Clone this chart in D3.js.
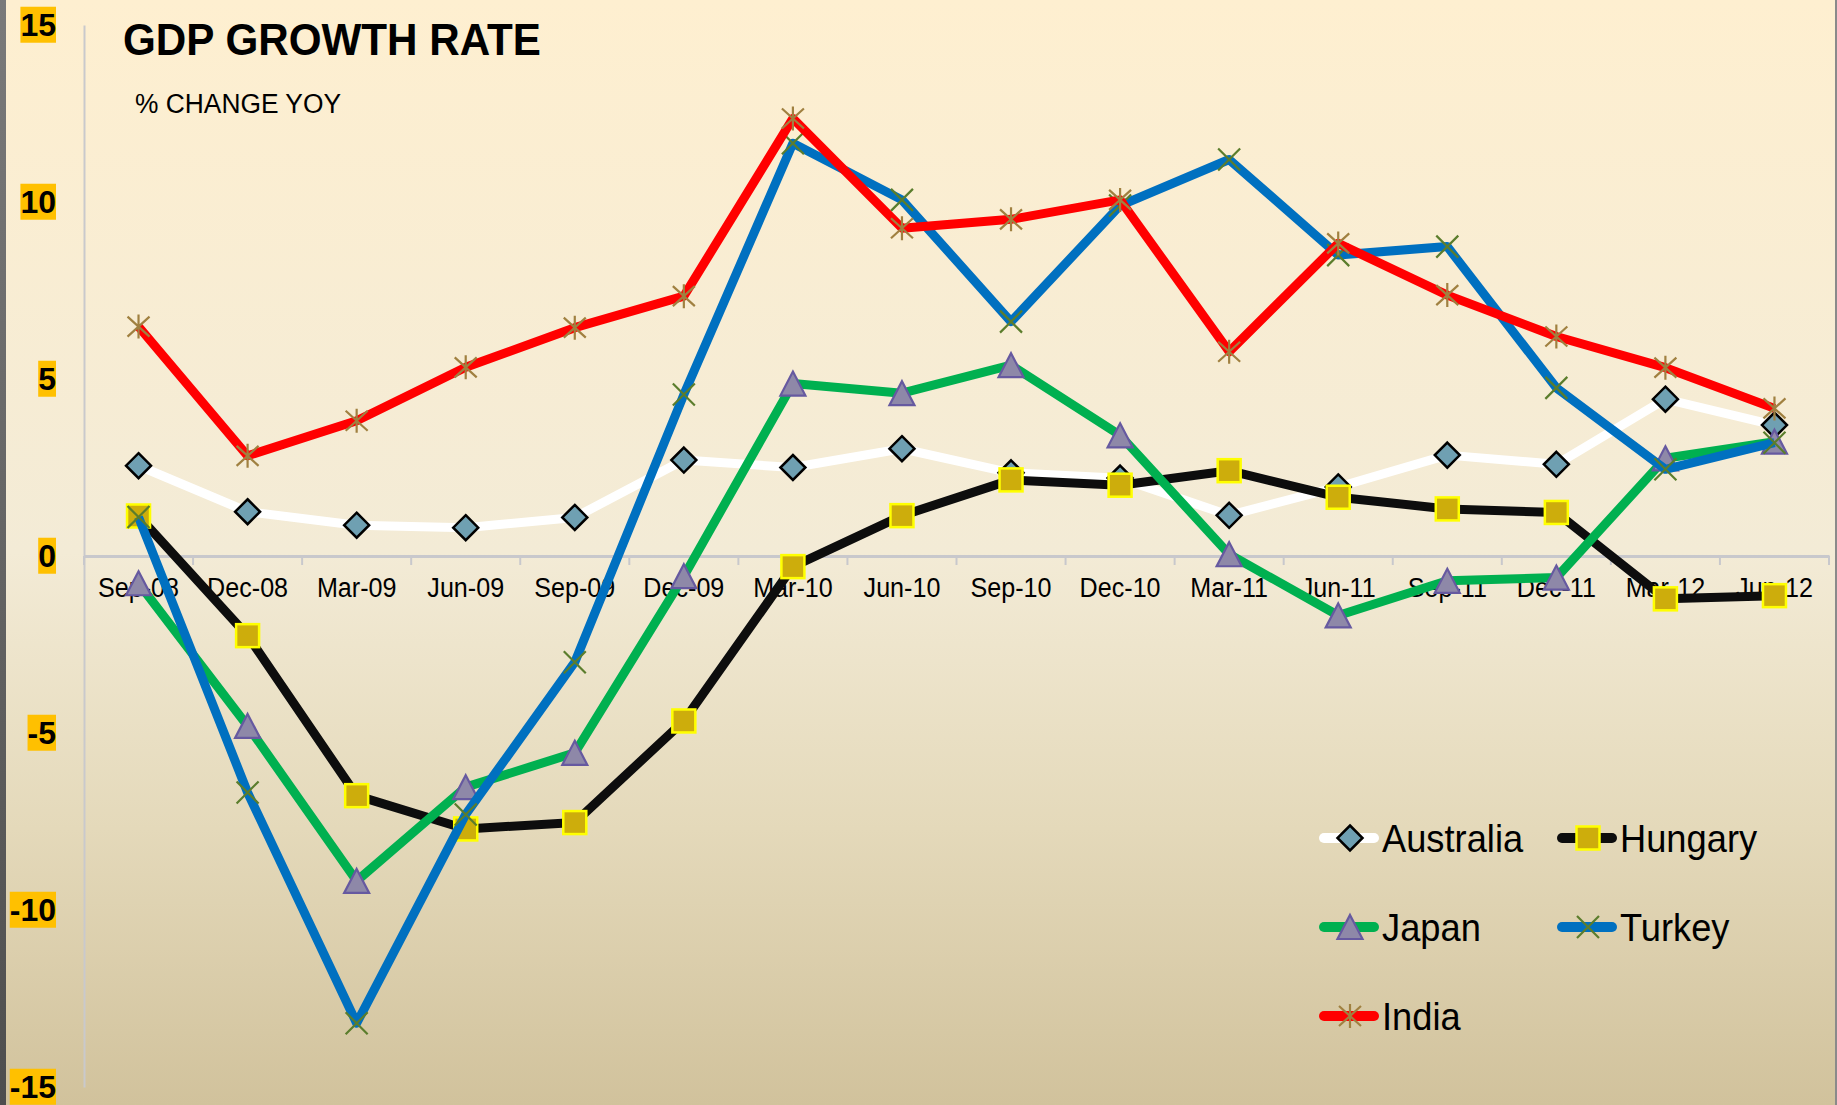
<!DOCTYPE html>
<html><head><meta charset="utf-8">
<script src="https://cdn.jsdelivr.net/npm/d3@7"></script>
<style>html,body{margin:0;padding:0;overflow:hidden;background:#fff}</style>
</head><body><svg id="c" width="1837" height="1105"></svg>
<script>
// ---------- DATA ----------
const categories = ["Sep-08","Dec-08","Mar-09","Jun-09","Sep-09","Dec-09","Mar-10","Jun-10","Sep-10","Dec-10","Mar-11","Jun-11","Sep-11","Dec-11","Mar-12","Jun-12"];
const australia = [2.55,1.25,0.87,0.80,1.09,2.71,2.50,3.03,2.35,2.20,1.15,1.95,2.85,2.59,4.43,3.70];
const hungary   = [1.13,-2.25,-6.77,-7.71,-7.53,-4.66,-0.30,1.14,2.15,2.00,2.41,1.66,1.33,1.23,-1.21,-1.12];
const japan     = [-0.77,-4.80,-9.18,-6.53,-5.56,-0.57,4.87,4.60,5.39,3.41,0.05,-1.68,-0.70,-0.61,2.76,3.23];
const turkey    = [1.10,-6.68,-13.20,-7.30,-3.00,4.56,11.66,10.06,6.62,9.90,11.20,8.50,8.74,4.75,2.45,3.20];
const india     = [6.48,2.83,3.82,5.33,6.45,7.34,12.36,9.26,9.51,10.06,5.77,8.83,7.37,6.20,5.32,4.17];
const yTicks = [-15,-10,-5,0,5,10,15];
const seriesNames = ["Australia","Hungary","Japan","Turkey","India"];
const seriesValues = [australia,hungary,japan,turkey,india];
const titleText = "GDP GROWTH RATE";
const subtitleText = "% CHANGE YOY";

// ---------- STYLES ----------
const styles = {
  Australia:{line:"#FFFFFF", marker:"diamond"},
  Hungary:{line:"#0D0D0D", marker:"square"},
  Japan:{line:"#00B050", marker:"triangle"},
  Turkey:{line:"#0070C0", marker:"cross"},
  India:{line:"#FF0000", marker:"star"}
};
const FONT = "'Liberation Sans', Arial, Helvetica, sans-serif";
const W=1837, H=1105;
const svg = d3.select("#c");

const defs = svg.append("defs");
const bg = defs.append("linearGradient").attr("id","bg").attr("x1",0).attr("y1",0).attr("x2",0).attr("y2",1);
[[0,"#FEEFD0"],[0.5,"#F3EBD6"],[0.75,"#E4D9BA"],[1,"#D1C29C"]].forEach(s=>bg.append("stop").attr("offset",s[0]).attr("stop-color",s[1]));
const gb = defs.append("linearGradient").attr("id","gb").attr("x1",0).attr("y1",0).attr("x2",0).attr("y2",1);
[[0,"#7A7A7A"],[1,"#4E4E4E"]].forEach(s=>gb.append("stop").attr("offset",s[0]).attr("stop-color",s[1]));

svg.append("rect").attr("width",W).attr("height",H).attr("fill","url(#bg)");
svg.append("rect").attr("x",0).attr("y",0).attr("width",6).attr("height",H).attr("fill","url(#gb)");
svg.append("rect").attr("x",1835).attr("y",0).attr("width",2).attr("height",H).attr("fill","#8A8A8A");

function squeeze(sel,f){
  sel.each(function(){const w=this.getComputedTextLength();d3.select(this).attr("textLength",w*f).attr("lengthAdjust","spacingAndGlyphs");});
}

// ---------- SCALES ----------
const x = d3.scaleBand().domain(categories).range([84,1829]).paddingInner(0).paddingOuter(0);
const cx = c => x(c)+x.bandwidth()/2;
const y = d3.scaleLinear().domain([-15,15]).range([1087,25]);

// ---------- AXES ----------
const yAxis = svg.append("g").attr("transform","translate(84,0)")
  .call(d3.axisLeft(y).tickValues(yTicks).tickFormat(d=>String(d)).tickSize(0).tickSizeOuter(0).tickPadding(28));
yAxis.select(".domain").attr("stroke","#C9C9CC").attr("stroke-width",2);
yAxis.selectAll(".tick text").attr("font-family",FONT).attr("font-size",32).attr("font-weight","bold").attr("fill","#000");
yAxis.selectAll(".tick").each(function(){
  const t=d3.select(this).select("text"); const b=t.node().getBBox();
  d3.select(this).insert("rect","text").attr("x",b.x).attr("y",b.y).attr("width",b.width).attr("height",b.height).attr("fill","#FFC000");
});

const xAxis = svg.append("g").attr("transform",`translate(0,${y(0)})`)
  .call(d3.axisBottom(x).tickSize(0).tickSizeOuter(0).tickPadding(22));
xAxis.select(".domain").attr("stroke","#C8C8CC").attr("stroke-width",3);
xAxis.selectAll(".tick text").attr("font-family",FONT).attr("font-size",27).attr("fill","#000");
squeeze(xAxis.selectAll(".tick text"),0.93);
const bounds = categories.map(c=>x(c)).concat([x.range()[1]]);
xAxis.selectAll("line.bt").data(bounds).enter().append("line").attr("class","bt")
  .attr("x1",d=>d).attr("x2",d=>d).attr("y1",0).attr("y2",9).attr("stroke","#C8C8CC").attr("stroke-width",2);

// ---------- MARKERS ----------
function marker(g,type,px,py){
  if(type==="diamond"){
    g.append("path").attr("d",`M${px},${py-12.5}L${px+12.5},${py}L${px},${py+12.5}L${px-12.5},${py}Z`)
      .attr("fill","#6FA0B2").attr("stroke","#000").attr("stroke-width",2.5).attr("stroke-linejoin","miter");
  } else if(type==="square"){
    g.append("rect").attr("x",px-11.5).attr("y",py-11.5).attr("width",23).attr("height",23)
      .attr("fill","#CDAD0C").attr("stroke","#FFFF00").attr("stroke-width",2.5);
  } else if(type==="triangle"){
    g.append("path").attr("d",`M${px},${py-12}L${px+12.5},${py+12}L${px-12.5},${py+12}Z`)
      .attr("fill","#8E88A8").attr("stroke","#6659A0").attr("stroke-width",2.2);
  } else if(type==="cross"){
    g.append("path").attr("d",`M${px-11},${py-11}L${px+11},${py+11}M${px+11},${py-11}L${px-11},${py+11}`)
      .attr("stroke","#5B7D2C").attr("stroke-width",2.2).attr("fill","none");
  } else if(type==="star"){
    g.append("path").attr("d",`M${px-11},${py-10}L${px+11},${py+10}M${px+11},${py-10}L${px-11},${py+10}M${px},${py-12}L${px},${py+12}`)
      .attr("stroke","#A08040").attr("stroke-width",2.2).attr("fill","none");
  }
}

// ---------- SERIES ----------
const line = d3.line().x((d,i)=>cx(categories[i])).y(d=>y(d));
seriesNames.forEach((name,si)=>{
  const vals = seriesValues[si];
  const g = svg.append("g");
  g.append("path").attr("d",line(vals)).attr("fill","none").attr("stroke",styles[name].line)
    .attr("stroke-width",9).attr("stroke-linejoin","round");
  vals.forEach((v,i)=>marker(g,styles[name].marker,cx(categories[i]),y(v)));
});

// ---------- TITLE ----------
const t1 = svg.append("text").attr("x",123).attr("y",55).attr("font-family",FONT).attr("font-size",45)
  .attr("font-weight","bold").attr("fill","#000").text(titleText);
t1.attr("textLength",418).attr("lengthAdjust","spacingAndGlyphs");
const t2 = svg.append("text").attr("x",135).attr("y",113).attr("font-family",FONT).attr("font-size",27)
  .attr("fill","#000").text(subtitleText);
t2.attr("textLength",206).attr("lengthAdjust","spacingAndGlyphs");

// ---------- LEGEND ----------
const legendPos = [[1319,838],[1557,838],[1319,927],[1557,927],[1319,1016]];
seriesNames.forEach((name,i)=>{
  const [lx,ly] = legendPos[i];
  const g = svg.append("g");
  g.append("line").attr("x1",lx+5).attr("x2",lx+55).attr("y1",ly).attr("y2",ly)
    .attr("stroke",styles[name].line).attr("stroke-width",10).attr("stroke-linecap","round");
  marker(g,styles[name].marker,lx+31,ly);
  const tx = g.append("text").attr("x",lx+63).attr("y",ly+14).attr("font-family",FONT).attr("font-size",39)
    .attr("fill","#000").text(name);
  squeeze(tx,0.93);
});
</script></body></html>
